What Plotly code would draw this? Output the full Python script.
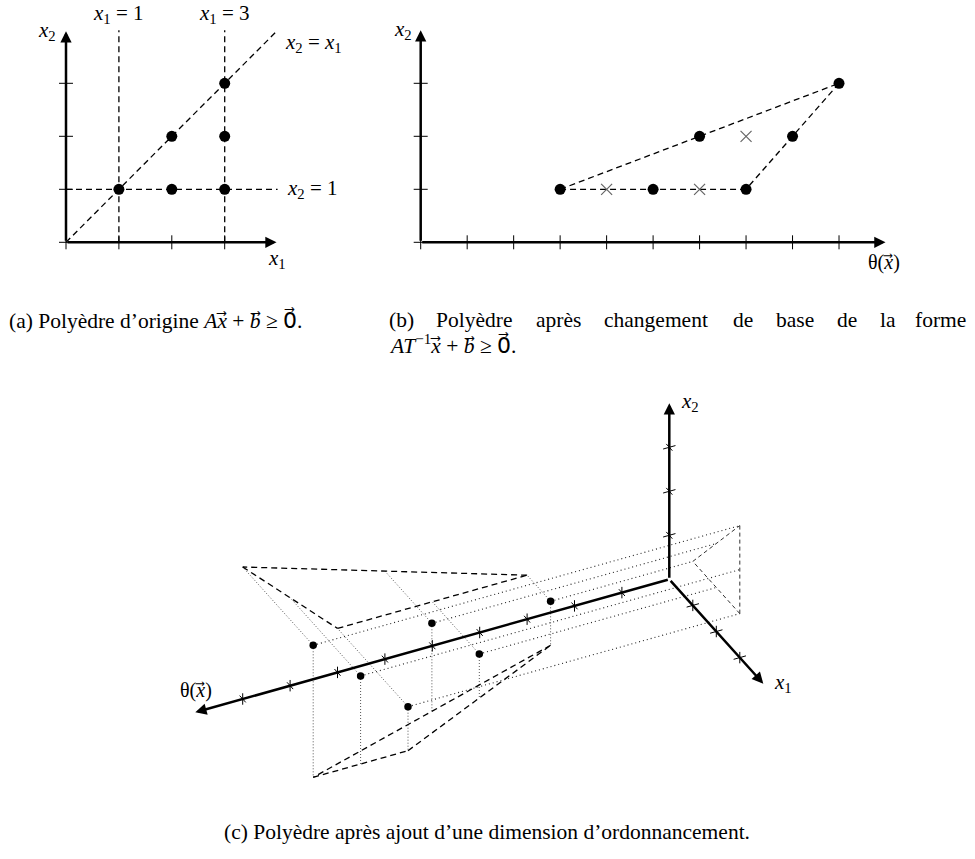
import plotly.graph_objects as go

W, H = 975, 859
SERIF = "Liberation Serif, Times New Roman, DejaVu Serif, serif"

# ---------------- data ----------------
# (a) integer points of the original polyhedron
pts_x1 = [1, 2, 3, 2, 3, 3]
pts_x2 = [1, 1, 1, 2, 2, 3]
a_ticks = [0, 1, 2, 3]
a_bounds_x1 = [1, 3]          # x1 = 1, x1 = 3
a_bound_x2 = 1                # x2 = 1
a_extent = 4                  # length of axes / constraint lines

# (b) after change of basis
b_theta = [3, 5, 7, 6, 8, 9]
b_x2 = [1, 1, 1, 2, 2, 3]
holes_theta = [4, 6, 7]
holes_x2 = [1, 1, 2]
b_hull_theta = [3, 9, 7, 3]
b_hull_x2 = [1, 3, 1, 1]
b_ticks_theta = list(range(10))
b_ticks_x2 = [0, 1, 2, 3]
b_theta_extent = 10
b_x2_extent = 4

# (c) with the scheduling dimension: (theta, x1, x2)
c_theta = [3, 5, 7, 6, 8, 9]
c_x1 = [1, 2, 3, 2, 3, 3]
c_x2 = [1, 1, 1, 2, 2, 3]
hull_plane_x1 = ([3, 9, 7, 3], [1, 3, 1, 1])      # (theta, x2) on x1 = 0
hull_plane_x2 = ([3, 9, 7, 3], [1, 3, 3, 1])      # (theta, x1) on x2 = 0
hull_plane_t = ([1, 3, 3, 1], [1, 3, 1, 1])       # (x1, x2) on theta = 0
c_ticks_theta = list(range(1, 10))
c_ticks_x1 = [1, 2, 3]
c_ticks_x2 = [1, 2, 3]
c_len = {"theta": 10, "x1": 4, "x2": 4}

# oblique projection of panel (c), in screen pixels
ORIGIN = (669.3, 579.3)
U_T = (-47.4, 13.3)
U_1 = (23.5, 26.1)
U_2 = (0.0, -44.0)


def proj(t, a, b):
    return (ORIGIN[0] + t * U_T[0] + a * U_1[0] + b * U_2[0],
            ORIGIN[1] + t * U_T[1] + a * U_1[1] + b * U_2[1])


def frame(x0, x1, y0, y1, ox, oy, ux, uy):
    """axis domain/range so that data origin sits at pixel (ox, oy)"""
    return dict(
        dom_x=[x0 / W, x1 / W], dom_y=[1 - y1 / H, 1 - y0 / H],
        rng_x=[(x0 - ox) / ux, (x1 - ox) / ux],
        rng_y=[(oy - y1) / uy, (oy - y0) / uy],
    )


fa = frame(0, 360, 0, 290, 66, 242.3, 52.9, 53.0)
fb = frame(380, 975, 0, 290, 420.7, 242.3, 46.48, 53.0)

fig = go.Figure()

dash_style = dict(color="black", width=1.3, dash="6px,4px")
axis_kw = dict(showgrid=False, zeroline=False, visible=False, fixedrange=True)


def segs(pairs):
    xs, ys = [], []
    for (x0, y0), (x1, y1) in pairs:
        xs += [x0, x1, None]
        ys += [y0, y1, None]
    return xs, ys


def add_lines(pairs, line, xa="x", ya="y"):
    xs, ys = segs(pairs)
    fig.add_trace(go.Scatter(x=xs, y=ys, mode="lines", line=line,
                             xaxis=xa, yaxis=ya, hoverinfo="skip", showlegend=False))


def arrow(xa, ya, tail, tip, width=2.5):
    fig.add_annotation(x=tip[0], y=tip[1], ax=tail[0], ay=tail[1],
                       xref=xa, yref=ya, axref=xa, ayref=ya, text="",
                       showarrow=True, arrowhead=2, arrowsize=0.9,
                       arrowwidth=width, arrowcolor="black")


# ---------------- panel (a) ----------------
E = a_extent
add_lines([((v, 0), (v, E)) for v in a_bounds_x1]
          + [((0, a_bound_x2), (E, a_bound_x2)), ((0, 0), (E, E))], dash_style)
ht = 7 / 53
add_lines([((t, -ht), (t, ht)) for t in a_ticks]
          + [((-ht, t), (ht, t)) for t in a_ticks], dict(color="black", width=1))
arrow("x", "y", (0, 0), (E - 0.02, 0))
arrow("x", "y", (0, 0), (0, E - 0.02))
fig.add_trace(go.Scatter(x=pts_x1, y=pts_x2, mode="markers",
                         marker=dict(color="black", size=11),
                         hoverinfo="skip", showlegend=False))

# ---------------- panel (b) ----------------
add_lines(list(zip(zip(b_hull_theta[:-1], b_hull_x2[:-1]),
                   zip(b_hull_theta[1:], b_hull_x2[1:]))), dash_style, "x2", "y2")
hx, hy = 7 / 53, 7 / 46.48
add_lines([((t, -hx), (t, hx)) for t in b_ticks_theta]
          + [((-hy, t), (hy, t)) for t in b_ticks_x2],
          dict(color="black", width=1), "x2", "y2")
arrow("x2", "y2", (0, 0), (b_theta_extent, 0))
arrow("x2", "y2", (0, 0), (0, b_x2_extent))
fig.add_trace(go.Scatter(x=b_theta, y=b_x2, mode="markers",
                         marker=dict(color="black", size=11),
                         xaxis="x2", yaxis="y2", hoverinfo="skip", showlegend=False))
fig.add_trace(go.Scatter(x=holes_theta, y=holes_x2, mode="markers",
                         marker=dict(symbol="x-thin", size=11,
                                     line=dict(color="#666", width=1.2)),
                         xaxis="x2", yaxis="y2", hoverinfo="skip", showlegend=False))

# ---------------- panel (c) ----------------
pts3 = list(zip(c_theta, c_x1, c_x2))
add_lines([(proj(t, a, b), proj(0, a, b)) for t, a, b in pts3],
          dict(color="#222", width=1.1, dash="1px,3px"), "x3", "y3")
add_lines([(proj(t, a, b), proj(t, 0, b)) for t, a, b in pts3]
          + [(proj(t, a, b), proj(t, a, 0)) for t, a, b in pts3],
          dict(color="#555", width=1, dash="1px,2px"), "x3", "y3")

tri = []
ts, bs = hull_plane_x1
tri += [(proj(ts[i], 0, bs[i]), proj(ts[i + 1], 0, bs[i + 1])) for i in range(3)]
ts, as_ = hull_plane_x2
tri += [(proj(ts[i], as_[i], 0), proj(ts[i + 1], as_[i + 1], 0)) for i in range(3)]
add_lines(tri, dash_style, "x3", "y3")
as_, bs = hull_plane_t
add_lines([(proj(0, as_[i], bs[i]), proj(0, as_[i + 1], bs[i + 1])) for i in range(3)],
          dict(color="#333", width=1, dash="4px,3px"), "x3", "y3")

s = 0.13
tk = []
for k in c_ticks_theta:
    tk += [(proj(k, -s, 0), proj(k, s, 0)), (proj(k, 0, -s), proj(k, 0, s))]
for k in c_ticks_x1:
    tk += [(proj(-s, k, 0), proj(s, k, 0)), (proj(0, k, -s), proj(0, k, s))]
for k in c_ticks_x2:
    tk += [(proj(-s, 0, k), proj(s, 0, k)), (proj(0, -s, k), proj(0, s, k))]
add_lines(tk, dict(color="black", width=1), "x3", "y3")

o = proj(0, 0, 0)
arrow("x3", "y3", o, proj(c_len["theta"], 0, 0))
arrow("x3", "y3", o, proj(0, c_len["x1"], 0))
arrow("x3", "y3", o, proj(0, 0, c_len["x2"]))

cx, cy = zip(*[proj(t, a, b) for t, a, b in pts3])
fig.add_trace(go.Scatter(x=cx, y=cy, mode="markers",
                         marker=dict(color="black", size=7.5),
                         xaxis="x3", yaxis="y3", hoverinfo="skip", showlegend=False))

# ---------------- text ----------------
X = "<i>x</i>\u20d7"
B = "<i>b</i>\u20d7"
ZERO = "0\u20d7"


def label(x, y, text, size=21, anchor="center"):
    fig.add_annotation(x=x / W, y=1 - y / H, xref="paper", yref="paper", text=text,
                       showarrow=False, xanchor=anchor, yanchor="middle",
                       font=dict(family=SERIF, size=size, color="black"))


label(118, 14, "<i>x</i><sub>1</sub> = 1")
label(224, 14, "<i>x</i><sub>1</sub> = 3")
label(283, 43, "<i>x</i><sub>2</sub> = <i>x</i><sub>1</sub>", anchor="left")
label(285, 189, "<i>x</i><sub>2</sub> = 1", anchor="left")
label(47, 31, "<i>x</i><sub>2</sub>")
label(277, 259, "<i>x</i><sub>1</sub>")

label(403, 30, "<i>x</i><sub>2</sub>")
label(884, 262, "\u03b8(" + X + ")", size=20)

label(196, 690, "\u03b8(" + X + ")", size=20)
label(679, 402, "<i>x</i><sub>2</sub>", anchor="left")
label(772, 683, "<i>x</i><sub>1</sub>", anchor="left")

CAP = 21.5
label(7, 320, "(a) Polyèdre d\u2019origine <i>A</i>" + X + " + " + B + " \u2265 " + ZERO + ".",
      size=CAP, anchor="left")
# justified first line of caption (b)
words_b = ["(b)", "Polyèdre", "après", "changement", "de", "base", "de", "la"]
words_bx = [387, 434, 534, 602, 731, 774, 835, 878]
for wd, wx in zip(words_b, words_bx):
    label(wx, 320, wd, size=CAP, anchor="left")
label(968, 320, "forme", size=CAP, anchor="right")
label(387, 344, "<i>AT</i><sup>\u22121</sup>" + X + " + " + B + " \u2265 " + ZERO + ".",
      size=CAP, anchor="left")
label(487, 832, "(c) Polyèdre après ajout d\u2019une dimension d\u2019ordonnancement.", size=CAP)

fig.update_layout(
    width=W, height=H, autosize=False,
    margin=dict(l=0, r=0, t=0, b=0),
    plot_bgcolor="rgba(0,0,0,0)", paper_bgcolor="white",
    xaxis=dict(domain=fa["dom_x"], range=fa["rng_x"], anchor="y", **axis_kw),
    yaxis=dict(domain=fa["dom_y"], range=fa["rng_y"], anchor="x", **axis_kw),
    xaxis2=dict(domain=fb["dom_x"], range=fb["rng_x"], anchor="y2", **axis_kw),
    yaxis2=dict(domain=fb["dom_y"], range=fb["rng_y"], anchor="x2", **axis_kw),
    xaxis3=dict(domain=[0, 1], range=[0, W], anchor="y3", **axis_kw),
    yaxis3=dict(domain=[0, 1], range=[H, 0], anchor="x3", **axis_kw),
)

# drop the default 8px page margin so the figure sits at the window corner
fig.write_html("out.html", config={"displayModeBar": False},
               post_script="document.body.style.margin = '0';")
